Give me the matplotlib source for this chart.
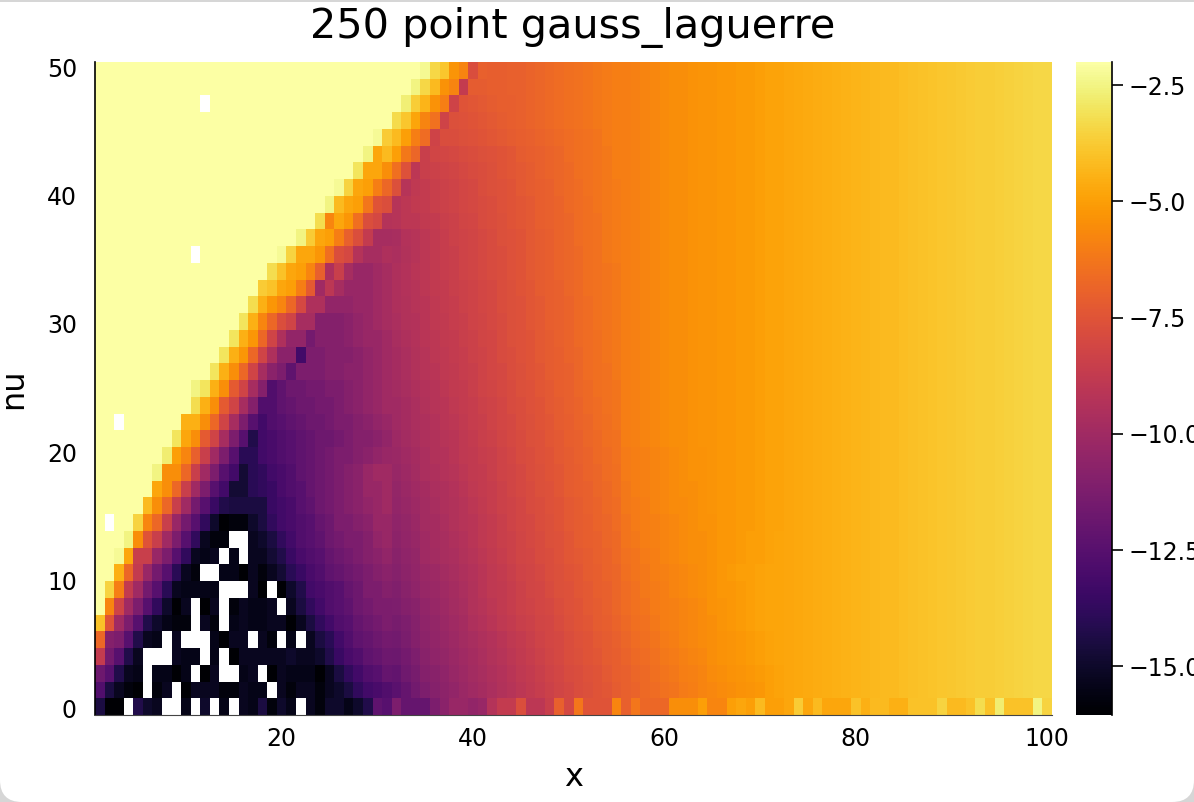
import numpy as np
import matplotlib
matplotlib.use("Agg")
import matplotlib.pyplot as plt
from matplotlib.patches import FancyBboxPatch, Rectangle

# Cell levels: each character is one level, 0.25 apart, from -16 upward. "." is a missing cell.
LEVELS = "0123456789abcdefghijklmnopqrstuvwxyzABCDEFGHIJKLMNOPQRSTU"

# Rows bottom to top, columns x = 1..31 (groups of ten for reading)
rows_left = [
 "600.743..2 .4.2.32614 2.3144247f e",
 "d6310.13.0 33311322.3 13313469bc d",
 "he732.2202 .03..23.03 2220369bde g",
 "tie73...32 2.2.033333 43347acdfg h",
 "Bkje732.3. ..2033.31. 2.368bdfgh i",
 "Myoje74211 .31.232233 0369bdeghi j",
 "UFvoje9403 .03.13223. 369bdefhij j",
 "UOEtoie832 222...30.0 47bcdeghjj k",
 "UUKBtnie83 1..2203135 8acdfghijk l",
 "UUTJuunje9 323.2.3357 acdeghijkl m",
 "UUUSGyuoje 9311..3469 bdefhijjkm n",
 "U.UUOFBuni e94011469b cdeghjjkln n",
 "UUUUULGBuo iea76666ab cefhijklmn o",
 "UUUUUUJGBu ojeb5589ac deghijklnn o",
 "UUUUUUSGGB uojeb589bc dfghijklno o",
 "UUUUUUURIF Auoje88bcd efghijjklm n",
 "UUUUUUUUQJ Gzvpje7bcd efghhijkkl m",
 "UU.UUUUUUK KGBvpjebde fghhijjklm n",
 "UUUUUUUUUU PKGzvpkddf ghhiijklmn o",
 "UUUUUUUUUU SQKGzvpkdf hhiijjklmn o",
 "UUUUUUUUUU UUQKGBvplj fjjjkkllmn o",
 "UUUUUUUUUU UUUQKHBvql lbjjkkklmn o",
 "UUUUUUUUUU UUUUQKHBvq mmikkklmnn o",
 "UUUUUUUUUU UUUUUQKFBx vppkkklmno p",
 "UUUUUUUUUU UUUUUUPKHF Bwqqmmmnno p",
 "UUUUUUUUUU UUUUUUUNMJ IEzospnnno p",
 "UUUUUUUUUU UUUUUUUUPM JIFAqupnno p",
 "UUUUUUUUUU .UUUUUUUUT OJJHCxwrpp q",
 "UUUUUUUUUU UUUUUUUUUU USNJIEAxtp p",
 "UUUUUUUUUU UUUUUUUUUU UUUPFJHCxw r",
 "UUUUUUUUUU UUUUUUUUUU UUUUSLJIDy x",
 "UUUUUUUUUU UUUUUUUUUU UUUUUTOJIE B",
 "UUUUUUUUUU UUUUUUUUUU UUUUUUUQJJ G",
 "UUUUUUUUUU UUUUUUUUUU UUUUUUUUSJ L",
 "UUUUUUUUUU UUUUUUUUUU UUUUUUUUUT N",
 "UUUUUUUUUU UUUUUUUUUU UUUUUUUUUU U",
 "UUUUUUUUUU U.UUUUUUUU UUUUUUUUUU U",
 "UUUUUUUUUU UUUUUUUUUU UUUUUUUUUU U",
 "UUUUUUUUUU UUUUUUUUUU UUUUUUUUUU U",
]

# Bottom row, x = 32..100 (noisy)
bottom_right = "jgggjlnnm nrttxssuAw DyyyF ADBBB GGGIF FIJIL IIJNJ LJJJM KLLKK MMMOL LMPMR MMMSO"

# Rows 2..39, x = 32..55, magnitudes in tenths (value = -m / 10)
rows_mid = [
 [124,120,116,112, 109,107,105,102,100, 98,96,94,92,90, 88,86,84,82,80, 78,77,75,74,72],
 [121,117,114,110, 108,106,103,101,99, 97,95,93,91,89, 87,85,83,81,79, 78,76,75,73,71],
 [118,115,112,108, 106,104,102,100,98, 96,94,92,90,88, 86,84,82,80,78, 77,75,74,72,71],
 [116,113,110,107, 105,103,101,99,97, 95,93,91,89,87, 85,83,81,80,78, 76,75,73,72,70],
 [114,112,109,106, 104,102,100,98,95, 93,91,89,87,85, 84,82,81,79,77, 75,74,72,71,69],
 [112,110,108,105, 103,101,99,97,94, 92,90,88,86,84, 83,81,80,78,76, 75,73,72,70,68],
 [111,108,106,103, 102,100,98,96,94, 91,89,88,86,84, 82,81,79,77,76, 74,73,71,70,68],
 [109,107,105,102, 101,99,97,95,93, 91,89,87,85,83, 82,80,78,77,75, 74,72,71,69,68],
 [108,106,104,100, 99,97,96,94,92, 90,88,86,84,82, 81,79,78,76,74, 73,72,70,69,67],
 [107,105,103,100, 98,97,95,93,91, 89,87,85,84,82, 80,79,77,76,74, 72,71,70,68,67],
 [106,104,102,99, 98,96,94,92,91, 89,87,85,83,81, 80,78,77,75,73, 72,71,69,68,66],
 [105,103,101,99, 97,95,94,92,90, 88,86,84,83,81, 79,78,76,75,73, 72,70,69,67,66],
 [104,102,100,98, 96,95,93,91,89, 87,86,84,82,80, 79,77,76,74,72, 71,70,68,67,65],
 [103,101,99,96, 95,93,92,90,88, 87,85,83,82,80, 78,77,75,74,72, 71,69,68,66,65],
 [102,100,98,96, 94,93,91,89,88, 86,85,83,81,79, 78,76,75,73,72, 70,69,67,66,64],
 [101,99,97,95, 94,92,91,89,87, 85,84,82,80,79, 77,76,74,73,71, 70,68,67,65,64],
 [100,98,96,95, 93,91,90,88,86, 85,83,81,80,78, 77,75,74,72,71, 69,68,66,65,63],
 [100,98,96,94, 92,91,89,87,86, 84,83,81,79,78, 76,75,73,72,70, 69,67,66,64,63],
 [99,97,95,93, 92,90,88,87,85, 83,82,80,79,77, 76,74,73,71,70, 68,67,65,64,63],
 [98,96,94,92, 91,89,88,86,85, 83,81,80,78,77, 75,74,72,71,70, 68,66,65,64,62],
 [98,96,94,92, 90,89,87,86,84, 83,81,79,78,76, 75,73,72,71,69, 68,66,65,63,62],
 [97,95,93,91, 90,88,87,85,84, 82,81,79,77,76, 75,73,72,70,69, 67,66,65,63,62],
 [96,94,93,91, 89,88,86,85,83, 82,80,79,77,76, 74,73,71,70,69, 67,66,64,63,62],
 [95,94,92,91, 89,87,86,84,83, 81,80,78,77,76, 74,73,71,70,69, 67,66,64,63,62],
 [95,93,92,90, 88,87,85,84,83, 81,80,78,77,75, 74,72,71,70,68, 67,65,64,63,62],
 [95,93,91,90, 88,86,85,83,82, 80,79,78,76,75, 73,72,71,69,68, 67,65,64,63,62],
 [96,94,92,90, 88,86,85,83,82, 80,79,78,76,75, 73,72,71,69,68, 67,65,64,62,61],
 [97,93,92,90, 88,86,84,83,82, 80,79,77,76,75, 73,72,71,69,68, 66,65,64,62,61],
 [92,90,90,88, 87,85,84,82,81, 79,78,77,75,74, 73,71,70,69,68, 66,65,64,62,61],
 [92,90,88,87, 85,84,83,81,80, 79,78,76,75,74, 73,71,70,69,67, 66,65,63,62,61],
 [77,92,89,87, 85,84,83,81,80, 78,77,76,75,73, 72,71,70,68,67, 66,64,63,62,61],
 [65,76,90,85, 84,83,82,80,79, 78,77,75,74,73, 72,70,69,68,67, 65,64,63,62,60],
 [50,62,68,85, 82,81,80,79,78, 77,76,75,74,72, 71,70,69,68,66, 65,64,63,62,60],
 [42,50,60,66, 83,78,78,77,76, 75,74,73,72,71, 70,69,68,67,66, 65,64,63,61,60],
 [33,39,48,58, 64,83,77,76,75, 74,73,72,71,70, 69,68,67,66,65, 64,63,62,61,60],
 [20,27,37,44, 54,60,83,75,74, 73,72,71,71,70, 69,68,67,66,65, 64,63,62,61,60],
 [20,20,25,34, 42,54,58,87,72, 72,71,71,70,70, 69,68,67,66,65, 64,63,62,61,60],
 [20,20,20,23, 34,39,53,58,78, 70,71,71,70,70, 69,68,67,66,65, 64,63,62,61,60],
]

# Rows 2..16, x = 56..72, magnitudes in tenths
rows_low_right = [
 [70,69,67,66,64, 63,61,60,58,57, 56,55,54,53,52, 50,49],
 [70,68,67,65,63, 62,60,59,58,56, 55,54,53,52,51, 50,49],
 [69,67,66,64,62, 61,59,58,57,55, 54,53,52,51,50, 49,48],
 [68,66,65,63,61, 60,58,57,56,55, 54,53,52,51,50, 49,48],
 [67,65,64,62,60, 59,58,57,56,55, 53,52,51,50,49, 48,48],
 [66,64,63,61,60, 59,58,57,56,54, 53,52,51,50,49, 48,48],
 [66,64,62,61,60, 58,57,56,55,54, 52,52,51,50,49, 48,48],
 [65,63,62,60,59, 58,57,56,55,54, 52,51,50,50,49, 48,48],
 [64,63,61,60,58, 57,56,55,55,54, 52,52,51,50,50, 49,48],
 [63,62,60,59,58, 57,56,55,55,54, 52,52,51,50,50, 49,48],
 [63,61,60,59,58, 57,56,55,54,54, 52,52,51,51,50, 49,49],
 [62,61,60,58,57, 56,56,55,54,53, 52,52,51,51,50, 49,49],
 [62,60,59,58,57, 56,55,55,54,53, 52,52,51,51,50, 49,49],
 [61,60,59,58,57, 56,55,54,54,53, 52,52,51,51,50, 49,49],
 [61,60,59,58,57, 56,55,54,54,53, 52,52,51,51,50, 49,49],
]

# Rows 17..39, x = 56..72, magnitudes in tenths
high_right = [60,59,58,57,56, 55,55,54,53,53, 52,52,51,51,50, 49,49]

# Rows 2..39, x = 73..100
upper_right = [-4.75, -4.7, -4.65, -4.6, -4.55, -4.5, -4.45, -4.4, -4.35, -4.3,
               -4.25, -4.2, -4.1, -4.05, -4.0, -3.95, -3.9, -3.85, -3.8, -3.75,
               -3.7, -3.65, -3.6, -3.55, -3.5, -3.45, -3.4, -3.4]

title = "250 point gauss_laguerre"
x_label = "x"
y_label = "nu"
x_ticks = [20, 40, 60, 80, 100]
y_ticks = [0, 10, 20, 30, 40, 50]
bar_ticks = [-15.0, -12.5, -10.0, -7.5, -5.0, -2.5]


def decode(s):
    return [np.nan if c == "." else -16 + 0.25 * LEVELS.index(c) for c in "".join(s.split())]


grid = []
for i, r in enumerate(rows_left):
    left = decode(r)
    assert len(left) == 31, (i, len(left))
    if i == 0:
        rest = decode(bottom_right)
    else:
        mid = rows_mid[i - 1]
        near = rows_low_right[i - 1] if i <= len(rows_low_right) else high_right
        assert len(mid) == 24 and len(near) == 17, i
        rest = [-m / 10 for m in mid + near] + list(upper_right)
    assert len(left) + len(rest) == 100, i
    grid.append(left + rest)
grid = np.array(grid)

W, H = 1194, 802
fig = plt.figure(figsize=(W / 100, H / 100), dpi=100, facecolor="#d6d6d6")
# Rounded lower corners and thin upper band of the reference's frame
fig.add_artist(FancyBboxPatch((0, 0), W, H - 2, boxstyle="round,pad=0,rounding_size=22",
                              transform=None, facecolor="white", edgecolor="none", zorder=-2))
fig.add_artist(Rectangle((0, H / 2), W, H / 2 - 2, transform=None, facecolor="white",
                         edgecolor="none", zorder=-2))

L, R, T, B = 95, 1052, 62, 715
ax = fig.add_axes([L / W, 1 - B / H, (R - L) / W, (B - T) / H])
ax.patch.set_alpha(0)
cmap = plt.get_cmap("inferno").copy()
cmap.set_bad("white")
y_lo, y_hi = -0.47, 50.4
x_edges = np.arange(grid.shape[1] + 1) + 0.5
y_edges = np.linspace(y_lo, y_hi, grid.shape[0] + 1)
mesh = ax.pcolormesh(x_edges, y_edges, np.ma.masked_invalid(grid), cmap=cmap,
                     vmin=-16.05, vmax=-2.0, shading="flat", linewidth=0, antialiased=False)
ax.set_xlim(0.5, 100.5)
ax.set_ylim(y_lo, y_hi)
ax.set_xticks(x_ticks)
ax.set_yticks(y_ticks)
ax.tick_params(axis="x", length=0, labelsize=17, pad=9)
ax.tick_params(axis="y", length=0, labelsize=17, pad=13)
for s in ("top", "right"):
    ax.spines[s].set_visible(False)
ax.spines["left"].set_linewidth(1.2)
ax.spines["bottom"].set_linewidth(0.8)
ax.spines["bottom"].set_color("#444444")
ax.set_xlabel(x_label, fontsize=23, va="center")
ax.set_ylabel(y_label, fontsize=23, va="center")
ax.xaxis.set_label_coords(0.5, (B - 777) / (B - T))
ax.yaxis.set_label_coords((14 - L) / (R - L), 0.5)
fig.text((310 + 836) / 2 / W, 1 - 28 / H, title, fontsize=29.8, ha="center", va="center")

cax = fig.add_axes([1076 / W, 1 - B / H, 36 / W, (B - T) / H])
cb = fig.colorbar(mesh, cax=cax)
cb.set_ticks(bar_ticks)
cb.ax.tick_params(length=8, width=1.2, labelsize=17, pad=4)
cb.outline.set_visible(False)
cax.spines["right"].set_visible(True)
cax.spines["right"].set_linewidth(1.2)

fig.savefig("out.png", dpi=100)
